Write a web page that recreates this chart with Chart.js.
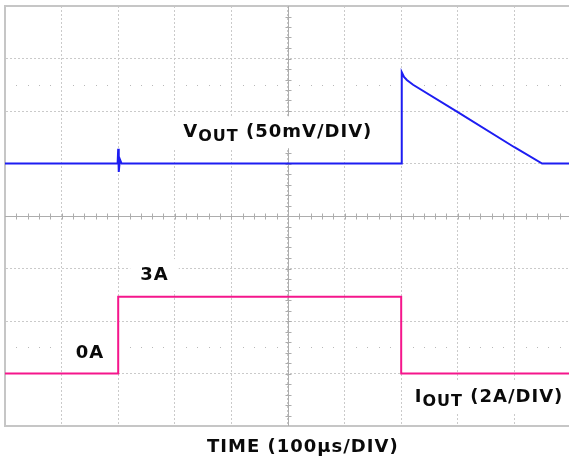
<!DOCTYPE html>
<html>
<head>
<meta charset="utf-8">
<script src="https://cdn.jsdelivr.net/npm/chart.js@4.4.1/dist/chart.umd.min.js"></script>
<style>
body { margin: 0; background: #fff; }
</style>
</head>
<body>
<canvas id="scope" width="569" height="457"></canvas>
<script>
// screen is 10 divisions wide, 8 tall, centre line at 0
var voutTime  = [0, 1.99, 2.0, 2.01, 2.03, 2.06, 7.0, 7.01, 7.05, 7.1, 7.21, 8.0, 9.0, 9.49, 10];
var voutLevel = [1.0, 1.0, 1.28, 0.84, 1.08, 1.0, 1.0, 2.74, 2.65, 2.59, 2.5, 1.98, 1.31, 1.0, 1.0];

var ioutTime  = [0, 2.0, 2.0, 7.0, 7.0, 10];
var ioutLevel = [-3.0, -3.0, -1.54, -1.54, -3.0, -3.0];

var noteText = [
	{main: 'V', sub: 'OUT', rest: ' (50mV/DIV)'},
	{main: '3A'},
	{main: '0A'},
	{main: 'I', sub: 'OUT', rest: ' (2A/DIV)'}
];
var notePos = [[3.15, 1.5], [2.39, -1.22], [1.25, -2.7], [7.24, -3.54]];
var timeLabel = 'TIME (100\u00b5s/DIV)';

function pts(xs, ys) {
	return xs.map(function(x, i) { return {x: x, y: ys[i]}; });
}

var bigFont = 'bold 18px "DejaVu Sans"';
var subFont = 'bold 16px "DejaVu Sans"';

function drawNote(ctx, n, x, y, box) {
	ctx.letterSpacing = '1px';
	ctx.font = bigFont;
	var w = ctx.measureText(n.main).width;
	var ws = 0, wr = 0;
	if (n.sub) {
		ctx.font = subFont; ws = ctx.measureText(n.sub).width;
		ctx.font = bigFont; wr = ctx.measureText(n.rest).width;
	}
	if (box) {
		ctx.fillStyle = '#fff';
		ctx.fillRect(x - 10, y - 21, w + ws + wr + 20, 32);
	}
	ctx.fillStyle = '#0a0a0a';
	ctx.textBaseline = 'alphabetic';
	ctx.font = bigFont;
	ctx.fillText(n.main, x, y);
	if (n.sub) {
		ctx.font = subFont;
		ctx.fillText(n.sub, x + w, y + 4);
		ctx.font = bigFont;
		ctx.fillText(n.rest, x + w + ws, y);
	}
}

var scopeMarks = {
	id: 'scopeMarks',
	beforeDatasetsDraw: function(chart) {
		var ctx = chart.ctx, xs = chart.scales.x, ys = chart.scales.y, a = chart.chartArea;
		ctx.save();
		// solid top edge
		ctx.strokeStyle = '#c6c6c6';
		ctx.lineWidth = 2;
		ctx.beginPath();
		ctx.moveTo(a.left, a.top);
		ctx.lineTo(a.right, a.top);
		ctx.stroke();
		// centre cross with minor ticks
		var cx = Math.round(xs.getPixelForValue(5)) + 0.5;
		var cy = Math.round(ys.getPixelForValue(0)) + 0.5;
		ctx.strokeStyle = '#adadad';
		ctx.lineWidth = 1;
		ctx.beginPath();
		ctx.moveTo(a.left, cy); ctx.lineTo(a.right, cy);
		ctx.moveTo(cx, a.top); ctx.lineTo(cx, a.bottom);
		for (var i = 1; i < 50; i++) {
			var px = Math.round(xs.getPixelForValue(i / 5)) + 0.5;
			ctx.moveTo(px, cy - 3); ctx.lineTo(px, cy + 3);
		}
		for (var j = -19; j < 20; j++) {
			var py = Math.round(ys.getPixelForValue(j / 5)) + 0.5;
			ctx.moveTo(cx - 3, py); ctx.lineTo(cx + 3, py);
		}
		ctx.stroke();
		// dotted reference rows
		ctx.fillStyle = '#b8b8b8';
		[2.5, -2.5].forEach(function(lv) {
			var ry = Math.round(ys.getPixelForValue(lv));
			for (var k = 1; k < 50; k++) {
				if (k % 5 === 0) continue;
				ctx.fillRect(Math.round(xs.getPixelForValue(k / 5)), ry, 1, 1);
			}
		});
		ctx.restore();
	},
	afterDatasetsDraw: function(chart) {
		var ctx = chart.ctx, xs = chart.scales.x, ys = chart.scales.y, a = chart.chartArea;
		ctx.save();
		noteText.forEach(function(n, i) {
			drawNote(ctx, n, xs.getPixelForValue(notePos[i][0]), ys.getPixelForValue(notePos[i][1]), true);
		});
		drawNote(ctx, {main: timeLabel}, xs.getPixelForValue(3.57), a.bottom + 26, false);
		ctx.restore();
	}
};

new Chart(document.getElementById('scope'), {
	type: 'line',
	data: {
		datasets: [{
			label: 'VOUT',
			data: pts(voutTime, voutLevel),
			borderColor: '#1d1df2',
			borderWidth: 2,
			pointRadius: 0,
			tension: 0
		}, {
			label: 'IOUT',
			data: pts(ioutTime, ioutLevel),
			borderColor: '#f5168c',
			borderWidth: 2,
			pointRadius: 0,
			tension: 0
		}]
	},
	options: {
		responsive: false,
		animation: false,
		devicePixelRatio: 1,
		layout: {padding: {left: 5, top: 6, right: 0, bottom: 31}},
		plugins: {legend: {display: false}, tooltip: {enabled: false}},
		scales: {
			x: {
				type: 'linear',
				min: 0,
				max: 9.965,
				ticks: {display: false, stepSize: 1, includeBounds: false},
				grid: {color: '#cacaca', lineWidth: 1, drawTicks: false},
				border: {display: true, color: '#c6c6c6', width: 2, dash: [2, 2]}
			},
			y: {
				min: -4,
				max: 4,
				ticks: {display: false, stepSize: 1},
				grid: {color: '#cacaca', lineWidth: 1, drawTicks: false},
				border: {display: true, color: '#c6c6c6', width: 2, dash: [2, 2]}
			}
		}
	},
	plugins: [scopeMarks]
});
</script>
</body>
</html>
